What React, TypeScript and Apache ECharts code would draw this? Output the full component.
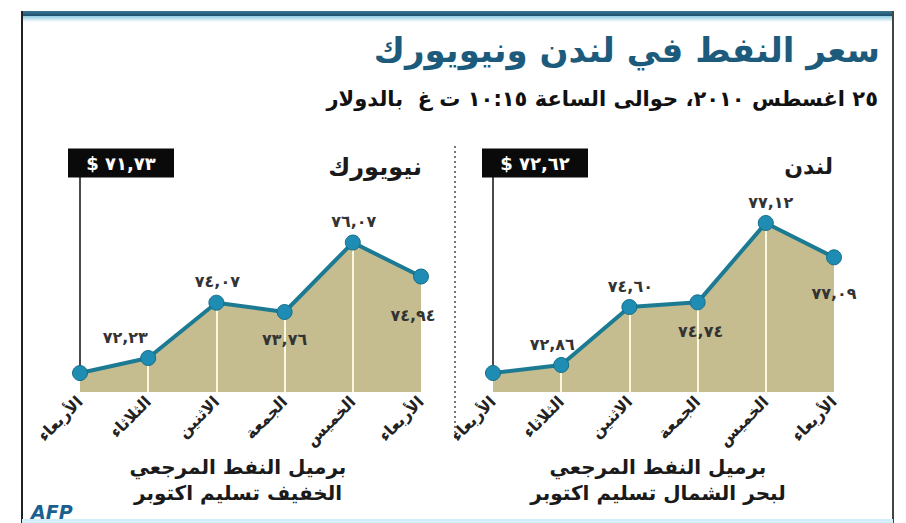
import React, { useEffect, useRef } from "react";
import * as echarts from "echarts";

const days = ["الأربعاء", "الثلاثاء", "الاثنين", "الجمعة", "الخميس", "الأربعاء"];
const londonValues = [72.62, 72.86, 74.6, 74.74, 77.12, 76.09];
const newYorkValues = [71.73, 72.23, 74.07, 73.76, 76.07, 74.94];
const londonLabels = ["٧٢,٦٢", "٧٢,٨٦", "٧٤,٦٠", "٧٤,٧٤", "٧٧,١٢", "٧٧,٠٩"];
const newYorkLabels = ["٧١,٧٣", "٧٢,٢٣", "٧٤,٠٧", "٧٣,٧٦", "٧٦,٠٧", "٧٤,٩٤"];
const londonRange = [72.05, 78.5];
const newYorkRange = [71.1, 78.25];

const titleText = "سعر النفط في لندن ونيويورك";
const subtitleText = "٢٥ اغسطس ٢٠١٠، حوالى الساعة ١٠:١٥ ت غ  بالدولار";
const londonName = "لندن";
const newYorkName = "نيويورك";
const londonCaption = ["برميل النفط المرجعي", "لبحر الشمال تسليم اكتوبر"];
const newYorkCaption = ["برميل النفط المرجعي", "الخفيف تسليم اكتوبر"];

const FONT = "DejaVu Sans";
const AREA = "#c5bd8f";
const LINE = "#1c7a93";
const DOT = "#1f8db3";

const londonLabelPos: any[] = [
  { show: false },
  { position: "top", offset: [-9, 0] },
  { position: "top", offset: [1, 0] },
  { position: "bottom", offset: [3, 8] },
  { position: "top", offset: [5, 0] },
  { position: "bottom", offset: [0, 15] },
];
const newYorkLabelPos: any[] = [
  { show: false },
  { position: "top", offset: [-23, 0] },
  { position: "top", offset: [1, 0] },
  { position: "bottom", offset: [0, 6] },
  { position: "top", offset: [1, 0] },
  { position: "bottom", offset: [-8, 18] },
];

function panelSeries(idx: number, values: number[], labels: string[], range: number[], pos: any[], boxOffsetX: number) {
  const drops: any[] = [];
  drops.push([
    { coord: [0, values[0]], lineStyle: { color: "#4a4a4a", width: 2, type: "solid" } },
    { coord: [0, range[1]] },
  ]);
  for (let i = 1; i < values.length - 1; i++) {
    drops.push([
      { coord: [i, values[i]], lineStyle: { color: "#fbf6df", width: 2, type: "solid" } },
      { coord: [i, range[0]] },
    ]);
  }
  return [
    {
      type: "line",
      xAxisIndex: idx,
      yAxisIndex: idx,
      data: values,
      symbol: "none",
      lineStyle: { width: 0, opacity: 0 },
      areaStyle: { color: AREA, opacity: 1 },
      z: 2,
      silent: true,
      markLine: {
        silent: true,
        symbol: ["none", "none"],
        label: { show: false },
        data: drops,
      },
      markPoint: {
        silent: true,
        data: [
          {
            coord: [0, range[1]],
            symbol: "rect",
            symbolSize: [106, 29],
            symbolOffset: [boxOffsetX, -14],
            itemStyle: { color: "#0a0a0a" },
            label: {
              show: true,
              position: "inside",
              formatter: "$ " + labels[0],
              color: "#ffffff",
              fontFamily: FONT,
              fontWeight: "bold",
              fontSize: 18,
            },
          },
        ],
      },
    },
    {
      type: "line",
      xAxisIndex: idx,
      yAxisIndex: idx,
      z: 10,
      symbol: "circle",
      symbolSize: 15,
      itemStyle: { color: DOT, borderColor: "#176d8a", borderWidth: 1 },
      lineStyle: { color: LINE, width: 4 },
      label: {
        show: true,
        color: "#333",
        fontFamily: FONT,
        fontWeight: "bold",
        fontSize: 16,
        distance: 5,
      },
      data: values.map((v, i) => ({
        value: v,
        label: { ...pos[i], formatter: labels[i] },
      })),
    },
  ];
}

export default function App() {
  const ref = useRef<HTMLDivElement>(null);
  useEffect(() => {
    if (!ref.current) return;
    const chart = echarts.init(ref.current, null, { renderer: "svg" });
    const xAxisBase = {
      type: "category",
      data: days,
      boundaryGap: false,
      axisLine: { show: false },
      axisTick: { show: false },
      splitLine: { show: false },
      axisLabel: {
        rotate: 45,
        margin: 7,
        fontSize: 16,
        fontWeight: "bold",
        color: "#222",
        fontFamily: FONT,
        interval: 0,
      },
    };
    const yAxisBase = {
      type: "value",
      show: false,
      splitLine: { show: false },
    };
    const caption = (lines: string[], x: number) =>
      lines.map((t, i) => ({
        type: "text",
        x,
        y: 467 + i * 26,
        style: {
          text: t,
          fontFamily: FONT,
          fontWeight: "bold",
          fontSize: 20,
          fill: "#1a1a1a",
          align: "center",
          verticalAlign: "middle",
        },
      }));
    chart.setOption({
      animation: false,
      backgroundColor: "#ffffff",
      grid: [
        { left: 493, right: 72, top: 177, bottom: 131 },
        { left: 80, right: 485, top: 177, bottom: 131 },
      ],
      xAxis: [
        { ...xAxisBase, gridIndex: 0 },
        { ...xAxisBase, gridIndex: 1 },
      ],
      yAxis: [
        { ...yAxisBase, gridIndex: 0, min: londonRange[0], max: londonRange[1] },
        { ...yAxisBase, gridIndex: 1, min: newYorkRange[0], max: newYorkRange[1] },
      ],
      series: [
        ...panelSeries(0, londonValues, londonLabels, londonRange, londonLabelPos, 42),
        ...panelSeries(1, newYorkValues, newYorkLabels, newYorkRange, newYorkLabelPos, 41),
      ],
      graphic: [
        {
          type: "rect",
          shape: { x: 22, y: 11, width: 871, height: 5 },
          style: {
            fill: new echarts.graphic.LinearGradient(0, 0, 0, 1, [
              { offset: 0, color: "#3d7897" },
              { offset: 1, color: "#1b4f6c" },
            ]),
          },
        },
        {
          type: "rect",
          shape: { x: 22, y: 16, width: 871, height: 6 },
          style: {
            fill: new echarts.graphic.LinearGradient(0, 0, 0, 1, [
              { offset: 0, color: "#8fcbe0" },
              { offset: 1, color: "#ffffff" },
            ]),
          },
        },
        {
          type: "line",
          shape: { x1: 22, y1: 11, x2: 22, y2: 523 },
          style: { stroke: "#222", lineWidth: 2 },
        },
        {
          type: "line",
          shape: { x1: 893, y1: 11, x2: 893, y2: 523 },
          style: { stroke: "#444", lineWidth: 2 },
        },
        {
          type: "rect",
          shape: { x: 22, y: 519, width: 871, height: 4 },
          style: { fill: "#d3effa" },
        },
        {
          type: "line",
          shape: { x1: 455, y1: 146, x2: 455, y2: 440 },
          style: { stroke: "#777", lineWidth: 2, lineDash: [2, 3] },
        },
        {
          type: "text",
          x: 880,
          y: 50,
          style: {
            text: titleText,
            fontFamily: FONT,
            fontWeight: "bold",
            fontSize: 34,
            fill: "#1d5b7c",
            align: "right",
            verticalAlign: "middle",
          },
        },
        {
          type: "text",
          x: 878,
          y: 99,
          style: {
            text: subtitleText,
            fontFamily: FONT,
            fontWeight: "bold",
            fontSize: 21,
            fill: "#111",
            align: "right",
            verticalAlign: "middle",
          },
        },
        {
          type: "text",
          x: 833,
          y: 166,
          style: {
            text: londonName,
            fontFamily: FONT,
            fontWeight: "bold",
            fontSize: 22,
            fill: "#1a1a1a",
            align: "right",
            verticalAlign: "middle",
          },
        },
        {
          type: "text",
          x: 422,
          y: 167,
          style: {
            text: newYorkName,
            fontFamily: FONT,
            fontWeight: "bold",
            fontSize: 24,
            fill: "#1a1a1a",
            align: "right",
            verticalAlign: "middle",
          },
        },
        ...caption(londonCaption, 658),
        ...caption(newYorkCaption, 238),
        {
          type: "text",
          x: 31,
          y: 512,
          style: {
            text: "AFP",
            fontFamily: "DejaVu Sans",
            fontWeight: "bold",
            fontStyle: "italic",
            fontSize: 19,
            fill: "#1b5f8f",
            align: "left",
            verticalAlign: "middle",
          },
        },
      ],
    });
    return () => chart.dispose();
  }, []);
  return (
    <div
      ref={ref}
      style={{ position: "fixed", left: 0, top: 0, width: 906, height: 523 }}
    />
  );
}
